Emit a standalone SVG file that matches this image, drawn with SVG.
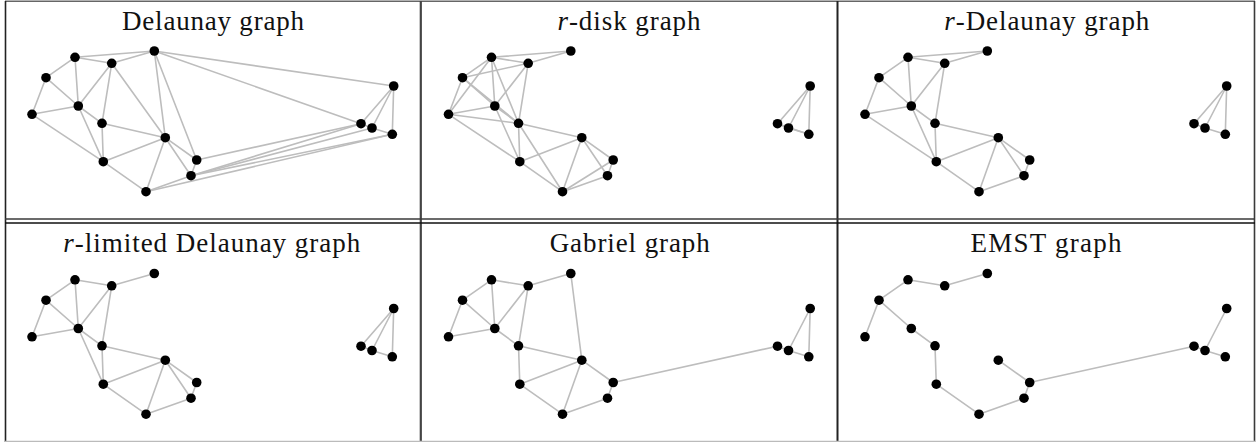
<svg xmlns="http://www.w3.org/2000/svg" width="1256" height="442" viewBox="0 0 1256 442">
<style>
.title{font-family:"Liberation Serif","Times New Roman",serif;font-size:27px;fill:#111;text-anchor:middle}
.edges line{stroke:#bdbdbd;stroke-width:1.6;stroke-linecap:round}
.node circle{fill:#000}
.frame line{stroke:#3a3a3a;stroke-width:1.6}
</style>
<rect x="0" y="0" width="1256" height="442" fill="#fff"/>
<g class="frame" id="frame">
<line x1="5" y1="1.2" x2="1255" y2="1.2" style="stroke:#666"/>
<line x1="5.5" y1="1" x2="5.5" y2="442" style="stroke:#222"/>
<line x1="1254.5" y1="1" x2="1254.5" y2="442"/>
<line x1="420.8" y1="1" x2="420.8" y2="442" style="stroke-width:2.2;stroke:#444"/>
<line x1="837.5" y1="1" x2="837.5" y2="442" style="stroke-width:2;stroke:#222"/>
<line x1="5" y1="219" x2="1255" y2="219"/>
<line x1="5" y1="223" x2="1255" y2="223" style="stroke:#111"/>
<line x1="5" y1="441.5" x2="1255" y2="441.5" style="stroke:#bbb"/>
</g>

<text class="title" font-family="'Liberation Serif', 'Times New Roman', serif" x="213" y="29.5" textLength="182" lengthAdjust="spacing">Delaunay graph</text>
<text class="title" font-family="'Liberation Serif', 'Times New Roman', serif" x="629" y="29.5" textLength="143" lengthAdjust="spacing"><tspan font-style="italic">r</tspan>-disk graph</text>
<text class="title" font-family="'Liberation Serif', 'Times New Roman', serif" x="1046.8" y="29.5" textLength="205" lengthAdjust="spacing"><tspan font-style="italic">r</tspan>-Delaunay graph</text>
<text class="title" font-family="'Liberation Serif', 'Times New Roman', serif" x="211.7" y="252.2" textLength="297" lengthAdjust="spacing"><tspan font-style="italic">r</tspan>-limited Delaunay graph</text>
<text class="title" font-family="'Liberation Serif', 'Times New Roman', serif" x="629.7" y="252.2" textLength="160" lengthAdjust="spacing">Gabriel graph</text>
<text class="title" font-family="'Liberation Serif', 'Times New Roman', serif" x="1046" y="252.2" textLength="151" lengthAdjust="spacing">EMST graph</text>

<!-- Panel 1: Delaunay -->
<g id="panel1" transform="translate(0,0)">
<g class="edges" id="p1-edges">
<line x1="75" y1="57.3" x2="154.3" y2="51"/>
<line x1="75" y1="57.3" x2="111.7" y2="63.3"/>
<line x1="154.3" y1="51" x2="111.7" y2="63.3"/>
<line x1="75" y1="57.3" x2="46" y2="77.7"/>
<line x1="75" y1="57.3" x2="78.3" y2="106"/>
<line x1="111.7" y1="63.3" x2="78.3" y2="106"/>
<line x1="46" y1="77.7" x2="78.3" y2="106"/>
<line x1="46" y1="77.7" x2="32" y2="114.3"/>
<line x1="78.3" y1="106" x2="32" y2="114.3"/>
<line x1="111.7" y1="63.3" x2="102" y2="123.3"/>
<line x1="78.3" y1="106" x2="102" y2="123.3"/>
<line x1="111.7" y1="63.3" x2="165.3" y2="137.7"/>
<line x1="154.3" y1="51" x2="165.3" y2="137.7"/>
<line x1="154.3" y1="51" x2="196.7" y2="160"/>
<line x1="154.3" y1="51" x2="393.7" y2="86"/>
<line x1="154.3" y1="51" x2="361" y2="123.7"/>
<line x1="78.3" y1="106" x2="103.3" y2="161.7"/>
<line x1="32" y1="114.3" x2="103.3" y2="161.7"/>
<line x1="102" y1="123.3" x2="103.3" y2="161.7"/>
<line x1="102" y1="123.3" x2="165.3" y2="137.7"/>
<line x1="165.3" y1="137.7" x2="103.3" y2="161.7"/>
<line x1="103.3" y1="161.7" x2="146" y2="191.7"/>
<line x1="165.3" y1="137.7" x2="146" y2="191.7"/>
<line x1="165.3" y1="137.7" x2="191" y2="175.7"/>
<line x1="165.3" y1="137.7" x2="196.7" y2="160"/>
<line x1="196.7" y1="160" x2="191" y2="175.7"/>
<line x1="191" y1="175.7" x2="146" y2="191.7"/>
<line x1="196.7" y1="160" x2="361" y2="123.7"/>
<line x1="191" y1="175.7" x2="361" y2="123.7"/>
<line x1="191" y1="175.7" x2="372" y2="128"/>
<line x1="191" y1="175.7" x2="392.3" y2="134.3"/>
<line x1="146" y1="191.7" x2="392.3" y2="134.3"/>
<line x1="393.7" y1="86" x2="361" y2="123.7"/>
<line x1="393.7" y1="86" x2="372" y2="128"/>
<line x1="393.7" y1="86" x2="392.3" y2="134.3"/>
<line x1="361" y1="123.7" x2="372" y2="128"/>
<line x1="372" y1="128" x2="392.3" y2="134.3"/>
</g>
<g id="p1-A" class="node"><circle cx="75" cy="57.3" r="4.8"/></g>
<g id="p1-B" class="node"><circle cx="154.3" cy="51" r="4.8"/></g>
<g id="p1-C" class="node"><circle cx="111.7" cy="63.3" r="4.8"/></g>
<g id="p1-D" class="node"><circle cx="46" cy="77.7" r="4.8"/></g>
<g id="p1-E" class="node"><circle cx="78.3" cy="106" r="4.8"/></g>
<g id="p1-F" class="node"><circle cx="32" cy="114.3" r="4.8"/></g>
<g id="p1-G" class="node"><circle cx="102" cy="123.3" r="4.8"/></g>
<g id="p1-H" class="node"><circle cx="165.3" cy="137.7" r="4.8"/></g>
<g id="p1-I" class="node"><circle cx="196.7" cy="160" r="4.8"/></g>
<g id="p1-J" class="node"><circle cx="103.3" cy="161.7" r="4.8"/></g>
<g id="p1-K" class="node"><circle cx="191" cy="175.7" r="4.8"/></g>
<g id="p1-L" class="node"><circle cx="146" cy="191.7" r="4.8"/></g>
<g id="p1-M" class="node"><circle cx="393.7" cy="86" r="4.8"/></g>
<g id="p1-N" class="node"><circle cx="361" cy="123.7" r="4.8"/></g>
<g id="p1-O" class="node"><circle cx="372" cy="128" r="4.8"/></g>
<g id="p1-P" class="node"><circle cx="392.3" cy="134.3" r="4.8"/></g>
</g>

<!-- Panel 2: r-disk -->
<g id="panel2" transform="translate(416.5,0)">
<g class="edges" id="p2-edges">
<line x1="75" y1="57.3" x2="154.3" y2="51"/>
<line x1="75" y1="57.3" x2="111.7" y2="63.3"/>
<line x1="75" y1="57.3" x2="46" y2="77.7"/>
<line x1="75" y1="57.3" x2="78.3" y2="106"/>
<line x1="75" y1="57.3" x2="32" y2="114.3"/>
<line x1="75" y1="57.3" x2="102" y2="123.3"/>
<line x1="154.3" y1="51" x2="111.7" y2="63.3"/>
<line x1="111.7" y1="63.3" x2="46" y2="77.7"/>
<line x1="111.7" y1="63.3" x2="78.3" y2="106"/>
<line x1="111.7" y1="63.3" x2="102" y2="123.3"/>
<line x1="46" y1="77.7" x2="78.3" y2="106"/>
<line x1="46" y1="77.7" x2="32" y2="114.3"/>
<line x1="46" y1="77.7" x2="102" y2="123.3"/>
<line x1="78.3" y1="106" x2="32" y2="114.3"/>
<line x1="78.3" y1="106" x2="102" y2="123.3"/>
<line x1="78.3" y1="106" x2="103.3" y2="161.7"/>
<line x1="32" y1="114.3" x2="102" y2="123.3"/>
<line x1="32" y1="114.3" x2="103.3" y2="161.7"/>
<line x1="102" y1="123.3" x2="165.3" y2="137.7"/>
<line x1="102" y1="123.3" x2="103.3" y2="161.7"/>
<line x1="102" y1="123.3" x2="146" y2="191.7"/>
<line x1="165.3" y1="137.7" x2="196.7" y2="160"/>
<line x1="165.3" y1="137.7" x2="103.3" y2="161.7"/>
<line x1="165.3" y1="137.7" x2="191" y2="175.7"/>
<line x1="165.3" y1="137.7" x2="146" y2="191.7"/>
<line x1="196.7" y1="160" x2="191" y2="175.7"/>
<line x1="196.7" y1="160" x2="146" y2="191.7"/>
<line x1="103.3" y1="161.7" x2="146" y2="191.7"/>
<line x1="191" y1="175.7" x2="146" y2="191.7"/>
<line x1="393.7" y1="86" x2="361" y2="123.7"/>
<line x1="393.7" y1="86" x2="372" y2="128"/>
<line x1="393.7" y1="86" x2="392.3" y2="134.3"/>
<line x1="361" y1="123.7" x2="372" y2="128"/>
<line x1="361" y1="123.7" x2="392.3" y2="134.3"/>
<line x1="372" y1="128" x2="392.3" y2="134.3"/>
</g>
<g id="p2-A" class="node"><circle cx="75" cy="57.3" r="4.8"/></g>
<g id="p2-B" class="node"><circle cx="154.3" cy="51" r="4.8"/></g>
<g id="p2-C" class="node"><circle cx="111.7" cy="63.3" r="4.8"/></g>
<g id="p2-D" class="node"><circle cx="46" cy="77.7" r="4.8"/></g>
<g id="p2-E" class="node"><circle cx="78.3" cy="106" r="4.8"/></g>
<g id="p2-F" class="node"><circle cx="32" cy="114.3" r="4.8"/></g>
<g id="p2-G" class="node"><circle cx="102" cy="123.3" r="4.8"/></g>
<g id="p2-H" class="node"><circle cx="165.3" cy="137.7" r="4.8"/></g>
<g id="p2-I" class="node"><circle cx="196.7" cy="160" r="4.8"/></g>
<g id="p2-J" class="node"><circle cx="103.3" cy="161.7" r="4.8"/></g>
<g id="p2-K" class="node"><circle cx="191" cy="175.7" r="4.8"/></g>
<g id="p2-L" class="node"><circle cx="146" cy="191.7" r="4.8"/></g>
<g id="p2-M" class="node"><circle cx="393.7" cy="86" r="4.8"/></g>
<g id="p2-N" class="node"><circle cx="361" cy="123.7" r="4.8"/></g>
<g id="p2-O" class="node"><circle cx="372" cy="128" r="4.8"/></g>
<g id="p2-P" class="node"><circle cx="392.3" cy="134.3" r="4.8"/></g>
</g>

<!-- Panel 3: r-Delaunay -->
<g id="panel3" transform="translate(833,0)">
<g class="edges" id="p3-edges">
<line x1="75" y1="57.3" x2="154.3" y2="51"/>
<line x1="75" y1="57.3" x2="111.7" y2="63.3"/>
<line x1="154.3" y1="51" x2="111.7" y2="63.3"/>
<line x1="75" y1="57.3" x2="46" y2="77.7"/>
<line x1="75" y1="57.3" x2="78.3" y2="106"/>
<line x1="111.7" y1="63.3" x2="78.3" y2="106"/>
<line x1="46" y1="77.7" x2="78.3" y2="106"/>
<line x1="46" y1="77.7" x2="32" y2="114.3"/>
<line x1="78.3" y1="106" x2="32" y2="114.3"/>
<line x1="111.7" y1="63.3" x2="102" y2="123.3"/>
<line x1="78.3" y1="106" x2="102" y2="123.3"/>
<line x1="78.3" y1="106" x2="103.3" y2="161.7"/>
<line x1="32" y1="114.3" x2="103.3" y2="161.7"/>
<line x1="102" y1="123.3" x2="103.3" y2="161.7"/>
<line x1="102" y1="123.3" x2="165.3" y2="137.7"/>
<line x1="165.3" y1="137.7" x2="103.3" y2="161.7"/>
<line x1="103.3" y1="161.7" x2="146" y2="191.7"/>
<line x1="165.3" y1="137.7" x2="146" y2="191.7"/>
<line x1="165.3" y1="137.7" x2="191" y2="175.7"/>
<line x1="165.3" y1="137.7" x2="196.7" y2="160"/>
<line x1="196.7" y1="160" x2="191" y2="175.7"/>
<line x1="191" y1="175.7" x2="146" y2="191.7"/>
<line x1="393.7" y1="86" x2="361" y2="123.7"/>
<line x1="393.7" y1="86" x2="372" y2="128"/>
<line x1="393.7" y1="86" x2="392.3" y2="134.3"/>
<line x1="361" y1="123.7" x2="372" y2="128"/>
<line x1="372" y1="128" x2="392.3" y2="134.3"/>
</g>
<g id="p3-A" class="node"><circle cx="75" cy="57.3" r="4.8"/></g>
<g id="p3-B" class="node"><circle cx="154.3" cy="51" r="4.8"/></g>
<g id="p3-C" class="node"><circle cx="111.7" cy="63.3" r="4.8"/></g>
<g id="p3-D" class="node"><circle cx="46" cy="77.7" r="4.8"/></g>
<g id="p3-E" class="node"><circle cx="78.3" cy="106" r="4.8"/></g>
<g id="p3-F" class="node"><circle cx="32" cy="114.3" r="4.8"/></g>
<g id="p3-G" class="node"><circle cx="102" cy="123.3" r="4.8"/></g>
<g id="p3-H" class="node"><circle cx="165.3" cy="137.7" r="4.8"/></g>
<g id="p3-I" class="node"><circle cx="196.7" cy="160" r="4.8"/></g>
<g id="p3-J" class="node"><circle cx="103.3" cy="161.7" r="4.8"/></g>
<g id="p3-K" class="node"><circle cx="191" cy="175.7" r="4.8"/></g>
<g id="p3-L" class="node"><circle cx="146" cy="191.7" r="4.8"/></g>
<g id="p3-M" class="node"><circle cx="393.7" cy="86" r="4.8"/></g>
<g id="p3-N" class="node"><circle cx="361" cy="123.7" r="4.8"/></g>
<g id="p3-O" class="node"><circle cx="372" cy="128" r="4.8"/></g>
<g id="p3-P" class="node"><circle cx="392.3" cy="134.3" r="4.8"/></g>
</g>

<!-- Panel 4: r-limited Delaunay -->
<g id="panel4" transform="translate(0,222.5)">
<g class="edges" id="p4-edges">
<line x1="75" y1="57.3" x2="111.7" y2="63.3"/>
<line x1="154.3" y1="51" x2="111.7" y2="63.3"/>
<line x1="75" y1="57.3" x2="46" y2="77.7"/>
<line x1="75" y1="57.3" x2="78.3" y2="106"/>
<line x1="111.7" y1="63.3" x2="78.3" y2="106"/>
<line x1="46" y1="77.7" x2="78.3" y2="106"/>
<line x1="46" y1="77.7" x2="32" y2="114.3"/>
<line x1="78.3" y1="106" x2="32" y2="114.3"/>
<line x1="111.7" y1="63.3" x2="102" y2="123.3"/>
<line x1="78.3" y1="106" x2="102" y2="123.3"/>
<line x1="78.3" y1="106" x2="103.3" y2="161.7"/>
<line x1="102" y1="123.3" x2="103.3" y2="161.7"/>
<line x1="102" y1="123.3" x2="165.3" y2="137.7"/>
<line x1="165.3" y1="137.7" x2="103.3" y2="161.7"/>
<line x1="103.3" y1="161.7" x2="146" y2="191.7"/>
<line x1="165.3" y1="137.7" x2="146" y2="191.7"/>
<line x1="165.3" y1="137.7" x2="191" y2="175.7"/>
<line x1="165.3" y1="137.7" x2="196.7" y2="160"/>
<line x1="196.7" y1="160" x2="191" y2="175.7"/>
<line x1="191" y1="175.7" x2="146" y2="191.7"/>
<line x1="393.7" y1="86" x2="361" y2="123.7"/>
<line x1="393.7" y1="86" x2="372" y2="128"/>
<line x1="393.7" y1="86" x2="392.3" y2="134.3"/>
<line x1="361" y1="123.7" x2="372" y2="128"/>
<line x1="372" y1="128" x2="392.3" y2="134.3"/>
</g>
<g id="p4-A" class="node"><circle cx="75" cy="57.3" r="4.8"/></g>
<g id="p4-B" class="node"><circle cx="154.3" cy="51" r="4.8"/></g>
<g id="p4-C" class="node"><circle cx="111.7" cy="63.3" r="4.8"/></g>
<g id="p4-D" class="node"><circle cx="46" cy="77.7" r="4.8"/></g>
<g id="p4-E" class="node"><circle cx="78.3" cy="106" r="4.8"/></g>
<g id="p4-F" class="node"><circle cx="32" cy="114.3" r="4.8"/></g>
<g id="p4-G" class="node"><circle cx="102" cy="123.3" r="4.8"/></g>
<g id="p4-H" class="node"><circle cx="165.3" cy="137.7" r="4.8"/></g>
<g id="p4-I" class="node"><circle cx="196.7" cy="160" r="4.8"/></g>
<g id="p4-J" class="node"><circle cx="103.3" cy="161.7" r="4.8"/></g>
<g id="p4-K" class="node"><circle cx="191" cy="175.7" r="4.8"/></g>
<g id="p4-L" class="node"><circle cx="146" cy="191.7" r="4.8"/></g>
<g id="p4-M" class="node"><circle cx="393.7" cy="86" r="4.8"/></g>
<g id="p4-N" class="node"><circle cx="361" cy="123.7" r="4.8"/></g>
<g id="p4-O" class="node"><circle cx="372" cy="128" r="4.8"/></g>
<g id="p4-P" class="node"><circle cx="392.3" cy="134.3" r="4.8"/></g>
</g>

<!-- Panel 5: Gabriel -->
<g id="panel5" transform="translate(416.5,222.5)">
<g class="edges" id="p5-edges">
<line x1="75" y1="57.3" x2="111.7" y2="63.3"/>
<line x1="75" y1="57.3" x2="46" y2="77.7"/>
<line x1="75" y1="57.3" x2="78.3" y2="106"/>
<line x1="154.3" y1="51" x2="111.7" y2="63.3"/>
<line x1="154.3" y1="51" x2="165.3" y2="137.7"/>
<line x1="111.7" y1="63.3" x2="78.3" y2="106"/>
<line x1="111.7" y1="63.3" x2="102" y2="123.3"/>
<line x1="46" y1="77.7" x2="78.3" y2="106"/>
<line x1="46" y1="77.7" x2="32" y2="114.3"/>
<line x1="78.3" y1="106" x2="32" y2="114.3"/>
<line x1="78.3" y1="106" x2="102" y2="123.3"/>
<line x1="102" y1="123.3" x2="165.3" y2="137.7"/>
<line x1="102" y1="123.3" x2="103.3" y2="161.7"/>
<line x1="165.3" y1="137.7" x2="196.7" y2="160"/>
<line x1="165.3" y1="137.7" x2="103.3" y2="161.7"/>
<line x1="165.3" y1="137.7" x2="146" y2="191.7"/>
<line x1="196.7" y1="160" x2="191" y2="175.7"/>
<line x1="196.7" y1="160" x2="361" y2="123.7"/>
<line x1="103.3" y1="161.7" x2="146" y2="191.7"/>
<line x1="191" y1="175.7" x2="146" y2="191.7"/>
<line x1="393.7" y1="86" x2="372" y2="128"/>
<line x1="393.7" y1="86" x2="392.3" y2="134.3"/>
<line x1="361" y1="123.7" x2="372" y2="128"/>
<line x1="372" y1="128" x2="392.3" y2="134.3"/>
</g>
<g id="p5-A" class="node"><circle cx="75" cy="57.3" r="4.8"/></g>
<g id="p5-B" class="node"><circle cx="154.3" cy="51" r="4.8"/></g>
<g id="p5-C" class="node"><circle cx="111.7" cy="63.3" r="4.8"/></g>
<g id="p5-D" class="node"><circle cx="46" cy="77.7" r="4.8"/></g>
<g id="p5-E" class="node"><circle cx="78.3" cy="106" r="4.8"/></g>
<g id="p5-F" class="node"><circle cx="32" cy="114.3" r="4.8"/></g>
<g id="p5-G" class="node"><circle cx="102" cy="123.3" r="4.8"/></g>
<g id="p5-H" class="node"><circle cx="165.3" cy="137.7" r="4.8"/></g>
<g id="p5-I" class="node"><circle cx="196.7" cy="160" r="4.8"/></g>
<g id="p5-J" class="node"><circle cx="103.3" cy="161.7" r="4.8"/></g>
<g id="p5-K" class="node"><circle cx="191" cy="175.7" r="4.8"/></g>
<g id="p5-L" class="node"><circle cx="146" cy="191.7" r="4.8"/></g>
<g id="p5-M" class="node"><circle cx="393.7" cy="86" r="4.8"/></g>
<g id="p5-N" class="node"><circle cx="361" cy="123.7" r="4.8"/></g>
<g id="p5-O" class="node"><circle cx="372" cy="128" r="4.8"/></g>
<g id="p5-P" class="node"><circle cx="392.3" cy="134.3" r="4.8"/></g>
</g>

<!-- Panel 6: EMST -->
<g id="panel6" transform="translate(833,222.5)">
<g class="edges" id="p6-edges">
<line x1="165.3" y1="137.7" x2="196.7" y2="160"/>
<line x1="196.7" y1="160" x2="191" y2="175.7"/>
<line x1="191" y1="175.7" x2="146" y2="191.7"/>
<line x1="146" y1="191.7" x2="103.3" y2="161.7"/>
<line x1="103.3" y1="161.7" x2="102" y2="123.3"/>
<line x1="102" y1="123.3" x2="78.3" y2="106"/>
<line x1="78.3" y1="106" x2="46" y2="77.7"/>
<line x1="46" y1="77.7" x2="32" y2="114.3"/>
<line x1="46" y1="77.7" x2="75" y2="57.3"/>
<line x1="75" y1="57.3" x2="111.7" y2="63.3"/>
<line x1="111.7" y1="63.3" x2="154.3" y2="51"/>
<line x1="196.7" y1="160" x2="361" y2="123.7"/>
<line x1="361" y1="123.7" x2="372" y2="128"/>
<line x1="372" y1="128" x2="393.7" y2="86"/>
<line x1="372" y1="128" x2="392.3" y2="134.3"/>
</g>
<g id="p6-A" class="node"><circle cx="75" cy="57.3" r="4.8"/></g>
<g id="p6-B" class="node"><circle cx="154.3" cy="51" r="4.8"/></g>
<g id="p6-C" class="node"><circle cx="111.7" cy="63.3" r="4.8"/></g>
<g id="p6-D" class="node"><circle cx="46" cy="77.7" r="4.8"/></g>
<g id="p6-E" class="node"><circle cx="78.3" cy="106" r="4.8"/></g>
<g id="p6-F" class="node"><circle cx="32" cy="114.3" r="4.8"/></g>
<g id="p6-G" class="node"><circle cx="102" cy="123.3" r="4.8"/></g>
<g id="p6-H" class="node"><circle cx="165.3" cy="137.7" r="4.8"/></g>
<g id="p6-I" class="node"><circle cx="196.7" cy="160" r="4.8"/></g>
<g id="p6-J" class="node"><circle cx="103.3" cy="161.7" r="4.8"/></g>
<g id="p6-K" class="node"><circle cx="191" cy="175.7" r="4.8"/></g>
<g id="p6-L" class="node"><circle cx="146" cy="191.7" r="4.8"/></g>
<g id="p6-M" class="node"><circle cx="393.7" cy="86" r="4.8"/></g>
<g id="p6-N" class="node"><circle cx="361" cy="123.7" r="4.8"/></g>
<g id="p6-O" class="node"><circle cx="372" cy="128" r="4.8"/></g>
<g id="p6-P" class="node"><circle cx="392.3" cy="134.3" r="4.8"/></g>
</g>
</svg>
